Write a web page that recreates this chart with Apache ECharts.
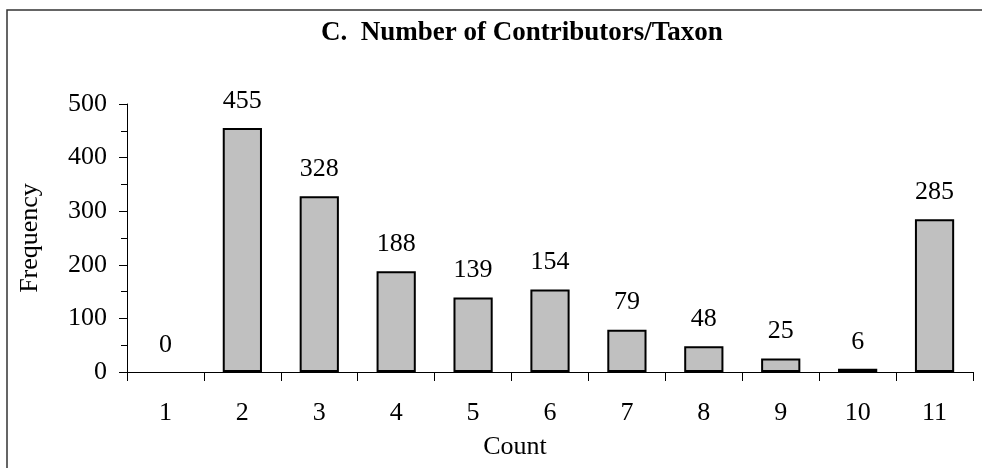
<!DOCTYPE html>
<html>
<head>
<meta charset="utf-8">
<script src="https://cdn.jsdelivr.net/npm/echarts@6/dist/echarts.min.js"></script>
<style>
html,body{margin:0;padding:0;background:#fff;}
#chart{width:982px;height:468px;}
</style>
</head>
<body>
<div id="chart"></div>
<script>
const titleText = 'C.  Number of Contributors/Taxon';
const categories = ['1','2','3','4','5','6','7','8','9','10','11'];
const frequency = [0, 455, 328, 188, 139, 154, 79, 48, 25, 6, 285];
const yTicks = [0, 100, 200, 300, 400, 500];

const font = '"Liberation Serif", "Times New Roman", serif';
const chart = echarts.init(document.getElementById('chart'), null, {renderer: 'canvas'});
chart.setOption({
  backgroundColor: '#fff',
  animation: false,
  title: {
    text: titleText,
    left: 316,
    top: 15,
    textStyle: {fontFamily: font, fontWeight: 'bold', fontSize: 27, color: '#000'}
  },
  graphic: [{
    type: 'rect',
    shape: {x: 7, y: 10, width: 1100, height: 600},
    style: {fill: 'none', stroke: '#333', lineWidth: 1.5},
    z: 100
  }],
  grid: {left: 127, right: 9, top: 104, bottom: 96, containLabel: false},
  xAxis: {
    type: 'category',
    data: categories,
    name: 'Count',
    nameLocation: 'middle',
    nameGap: 62,
    nameTextStyle: {fontFamily: font, fontSize: 26, color: '#000', padding: [0, 70, 0, 0]},
    axisLine: {lineStyle: {color: '#000', width: 1}},
    axisTick: {show: true, interval: 0, length: 9, lineStyle: {color: '#000'}},
    axisLabel: {interval: 0, margin: 28, fontFamily: font, fontSize: 26, color: '#000'}
  },
  yAxis: {
    type: 'value',
    min: yTicks[0],
    max: yTicks[yTicks.length - 1],
    interval: 100,
    name: 'Frequency',
    nameLocation: 'middle',
    nameGap: 84,
    nameRotate: 90,
    nameTextStyle: {fontFamily: font, fontSize: 26, color: '#000'},
    axisLine: {show: true, lineStyle: {color: '#000', width: 1}},
    axisTick: {show: true, length: 8, lineStyle: {color: '#000'}},
    minorTick: {show: true, splitNumber: 2, length: 6, lineStyle: {color: '#000'}},
    splitLine: {show: false},
    axisLabel: {margin: 20, fontFamily: font, fontSize: 26, color: '#000'}
  },
  series: [{
    type: 'bar',
    data: frequency.map(v => v === 0 ? {value: v, itemStyle: {borderWidth: 0}} : v),
    barWidth: '51%',
    itemStyle: {color: '#C0C0C0', borderColor: '#000', borderWidth: 2},
    label: {
      show: true,
      position: 'top',
      distance: 14,
      fontFamily: font,
      fontSize: 26,
      color: '#000'
    }
  }]
});
</script>
</body>
</html>
